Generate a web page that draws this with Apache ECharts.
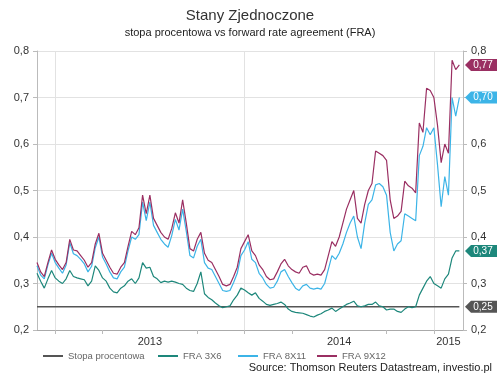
<!DOCTYPE html>
<html>
<head>
<meta charset="utf-8">
<script src="https://cdn.jsdelivr.net/npm/echarts@6/dist/echarts.min.js"></script>
<style>
  html, body { margin: 0; padding: 0; background: #fff; }
  #main { width: 500px; height: 375px; }
</style>
</head>
<body>
<div id="main"></div>
<script>
var chartDom = document.getElementById('main');
var myChart = echarts.init(chartDom);
var option;

const FONT = 'Liberation Sans, Arial, sans-serif';

// weekly observations, first week 2012-11-30, one extra empty week at the end
const START = Date.UTC(2012, 10, 30);
const NUM_WEEKS = 118;

const yearLabels = ['2013', '2014', '2015'];
const yearLabelWeeks = ['2013-07-05', '2014-07-04', '2015-01-30'];

const fra3x6 = [
  0.322, 0.305, 0.290, 0.310, 0.328, 0.312, 0.305, 0.300, 0.310, 0.328,
  0.315, 0.312, 0.310, 0.308, 0.295, 0.305, 0.338, 0.328, 0.312, 0.305,
  0.290, 0.282, 0.280, 0.290, 0.295, 0.305, 0.310, 0.300, 0.312, 0.345,
  0.333, 0.335, 0.315, 0.310, 0.302, 0.305, 0.303, 0.305, 0.303, 0.300,
  0.298, 0.290, 0.285, 0.283, 0.300, 0.325, 0.278, 0.270, 0.265, 0.258,
  0.252, 0.248, 0.250, 0.252, 0.265, 0.275, 0.290, 0.286, 0.280, 0.275,
  0.280, 0.268, 0.262, 0.255, 0.253, 0.255, 0.257, 0.260, 0.255, 0.245,
  0.240, 0.238, 0.237, 0.236, 0.233, 0.230, 0.228, 0.232, 0.235, 0.240,
  0.243, 0.247, 0.240, 0.245, 0.250, 0.255, 0.258, 0.262, 0.252, 0.250,
  0.252, 0.255, 0.255, 0.260, 0.252, 0.250, 0.243, 0.245, 0.245, 0.240,
  0.238, 0.245, 0.250, 0.248, 0.250, 0.275, 0.290, 0.305, 0.315, 0.300,
  0.295, 0.290, 0.310, 0.320, 0.355, 0.370, 0.370
];

const fra8x11 = [
  0.338, 0.318, 0.310, 0.340, 0.365, 0.345, 0.333, 0.322, 0.340, 0.388,
  0.364, 0.360, 0.352, 0.342, 0.325, 0.337, 0.377, 0.400, 0.357, 0.342,
  0.325, 0.312, 0.310, 0.325, 0.335, 0.370, 0.400, 0.395, 0.405, 0.475,
  0.435, 0.475, 0.425, 0.410, 0.395, 0.385, 0.378, 0.403, 0.438, 0.415,
  0.460, 0.412, 0.360, 0.355, 0.380, 0.395, 0.345, 0.333, 0.330, 0.315,
  0.300, 0.285, 0.283, 0.285, 0.302, 0.322, 0.360, 0.372, 0.390, 0.352,
  0.345, 0.322, 0.312, 0.298, 0.290, 0.292, 0.305, 0.325, 0.330, 0.315,
  0.302, 0.290, 0.285, 0.295, 0.298, 0.290, 0.288, 0.290, 0.288, 0.300,
  0.330, 0.360, 0.352, 0.365, 0.385, 0.410, 0.430, 0.445, 0.400, 0.375,
  0.430, 0.470, 0.480, 0.512, 0.515, 0.508, 0.490, 0.410, 0.370, 0.385,
  0.392, 0.450, 0.445, 0.440, 0.435, 0.575, 0.595, 0.635, 0.620, 0.635,
  0.555, 0.465, 0.530, 0.490, 0.700, 0.660, 0.700
];

const fra9x12 = [
  0.345, 0.325, 0.315, 0.345, 0.372, 0.352, 0.340, 0.330, 0.345, 0.395,
  0.372, 0.370, 0.360, 0.350, 0.335, 0.345, 0.385, 0.408, 0.365, 0.350,
  0.335, 0.322, 0.320, 0.335, 0.345, 0.380, 0.412, 0.405, 0.420, 0.490,
  0.450, 0.490, 0.440, 0.425, 0.410, 0.400, 0.395, 0.418, 0.452, 0.430,
  0.480, 0.430, 0.375, 0.370, 0.395, 0.410, 0.365, 0.350, 0.345, 0.330,
  0.315, 0.298, 0.295, 0.298, 0.315, 0.335, 0.375, 0.390, 0.405, 0.370,
  0.360, 0.340, 0.330, 0.315, 0.308, 0.310, 0.325, 0.342, 0.352, 0.338,
  0.330, 0.325, 0.322, 0.335, 0.338, 0.322, 0.318, 0.320, 0.318, 0.330,
  0.360, 0.390, 0.380, 0.400, 0.430, 0.460, 0.480, 0.500, 0.440, 0.430,
  0.470, 0.500, 0.515, 0.585, 0.580, 0.575, 0.565, 0.480, 0.440, 0.445,
  0.455, 0.520, 0.510, 0.505, 0.495, 0.645, 0.625, 0.720, 0.715, 0.700,
  0.640, 0.560, 0.600, 0.580, 0.780, 0.760, 0.770
];

// Fed funds rate stays at 0.25 for the whole period
const stopa = fra3x6.map(() => 0.25);

const lastValues = { stopa: 0.25, fra3x6: 0.37, fra8x11: 0.70, fra9x12: 0.77 };

const colors = {
  stopa: '#555555',
  fra3x6: '#1d877b',
  fra8x11: '#3cb4e7',
  fra9x12: '#9a2f62'
};

function getWeeks() {
  let weeks = [];
  for (let i = 0; i < NUM_WEEKS; i++) {
    weeks.push(new Date(START + i * 7 * 86400000).toISOString().slice(0, 10));
  }
  return weeks;
}

const weeks = getWeeks();
const lastWeek = weeks[weeks.length - 1];

function monthStarts(index, months) {
  if (index === 0) return false;
  const m = +weeks[index].slice(5, 7) - 1;
  const pm = +weeks[index - 1].slice(5, 7) - 1;
  return m !== pm && months.indexOf(m) >= 0;
}

function fmt(v, digits) {
  return v.toFixed(digits).replace('.', ',');
}

const TAG = 'path://M0,6 L6,0 L32,0 L32,12 L6,12 Z';

function tagFor(key) {
  return {
    symbol: TAG,
    symbolSize: [32, 12],
    symbolKeepAspect: false,
    symbolOffset: [18, 0],
    silent: true,
    itemStyle: { color: colors[key] },
    label: {
      show: true,
      position: 'inside',
      color: '#fff',
      fontSize: 10,
      fontFamily: FONT,
      offset: [2, 0],
      formatter: () => fmt(lastValues[key], 2)
    },
    data: [{ coord: [lastWeek, lastValues[key]] }]
  };
}

function lineSeries(name, key, data, width) {
  return {
    name: name,
    type: 'line',
    data: data,
    showSymbol: false,
    symbol: 'none',
    lineStyle: { color: colors[key], width: width },
    itemStyle: { color: colors[key] },
    markPoint: tagFor(key),
    animation: false
  };
}

function legendAt(name, left) {
  return {
    data: [name],
    left: left,
    top: 346,
    icon: 'rect',
    itemWidth: 20,
    itemHeight: 2,
    textStyle: { color: '#666', fontSize: 9.5, fontFamily: FONT }
  };
}

const yAxisBase = {
  type: 'value',
  min: 0.2,
  max: 0.8,
  interval: 0.1,
  axisLine: { show: true, lineStyle: { color: '#bbb' } },
  axisTick: { show: true, length: 4, lineStyle: { color: '#bbb' } },
  axisLabel: {
    color: '#333',
    fontSize: 11,
    fontFamily: FONT,
    formatter: v => fmt(v, 1)
  }
};

option = {
  animation: false,
  title: [
    {
      text: 'Stany Zjednoczone',
      left: 'center',
      top: 3,
      textStyle: { fontSize: 15, fontWeight: 'normal', color: '#333', fontFamily: FONT }
    },
    {
      text: 'stopa procentowa vs forward rate agreement (FRA)',
      left: 'center',
      top: 22,
      textStyle: { fontSize: 11, fontWeight: 'normal', color: '#222', fontFamily: FONT }
    },
    {
      text: 'Source: Thomson Reuters Datastream, investio.pl',
      right: 3,
      top: 357,
      textStyle: { fontSize: 11, fontWeight: 'normal', color: '#222', fontFamily: FONT }
    }
  ],
  legend: [
    legendAt('Stopa procentowa', 38),
    legendAt('FRA 3X6', 153),
    legendAt('FRA 8X11', 233),
    legendAt('FRA 9X12', 312)
  ],
  grid: { left: 37, right: 37, top: 51, bottom: 45 },
  xAxis: {
    type: 'category',
    data: weeks,
    boundaryGap: false,
    axisLine: { show: true, lineStyle: { color: '#aaa' } },
    axisTick: {
      show: true,
      length: 4,
      interval: (i) => monthStarts(i, [0, 3, 9]),
      lineStyle: { color: '#bbb' }
    },
    splitLine: {
      show: true,
      interval: (i) => monthStarts(i, [0]),
      lineStyle: { color: '#e2e2e2' }
    },
    axisLabel: {
      interval: (i, v) => yearLabelWeeks.indexOf(v) >= 0,
      formatter: v => yearLabels[yearLabelWeeks.indexOf(v)] || '',
      color: '#333',
      fontSize: 11,
      fontFamily: FONT,
      margin: 6
    }
  },
  yAxis: [
    Object.assign({}, yAxisBase, {
      position: 'left',
      splitLine: { show: true, lineStyle: { color: '#e2e2e2' } }
    }),
    Object.assign({}, yAxisBase, {
      position: 'right',
      splitLine: { show: false }
    })
  ],
  series: [
    lineSeries('Stopa procentowa', 'stopa', stopa, 1.5),
    lineSeries('FRA 3X6', 'fra3x6', fra3x6, 1.2),
    lineSeries('FRA 8X11', 'fra8x11', fra8x11, 1.2),
    lineSeries('FRA 9X12', 'fra9x12', fra9x12, 1.2)
  ]
};

option && myChart.setOption(option);
</script>
</body>
</html>
